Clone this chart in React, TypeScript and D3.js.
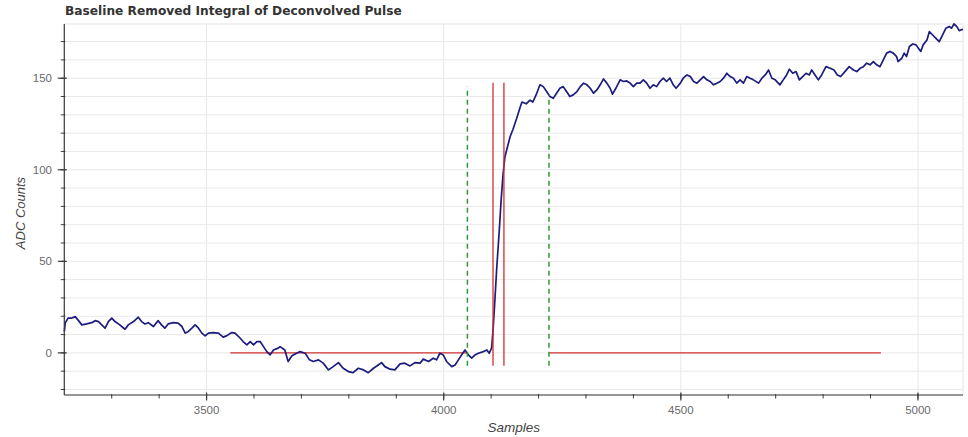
import React from "react";
import * as d3 from "d3";

// Integrated pulse trace: sample index and ADC counts
const samples = [
  3200, 3202, 3208, 3216, 3223, 3230, 3237, 3247, 3258, 3265, 3272, 3279, 3286, 3293, 3300, 3307,
  3317, 3328, 3335, 3346, 3356, 3363, 3370, 3377, 3388, 3398, 3405, 3412, 3419, 3430, 3440, 3448,
  3455, 3461, 3469, 3476, 3483, 3490, 3497, 3504, 3514, 3525, 3535, 3542, 3553, 3560, 3571, 3577,
  3585, 3592, 3599, 3606, 3613, 3620, 3627, 3634, 3641, 3651, 3655, 3665, 3672, 3680, 3690, 3697,
  3708, 3717, 3725, 3736, 3746, 3757, 3767, 3778, 3788, 3799, 3809, 3820, 3831, 3841, 3852, 3862,
  3869, 3876, 3887, 3897, 3908, 3918, 3929, 3940, 3950, 3957, 3968, 3978, 3985, 3992, 3999, 4006,
  4017, 4024, 4031, 4040, 4045, 4052, 4059, 4066, 4073, 4084, 4091, 4096, 4101, 4104, 4108, 4112,
  4117, 4121, 4125, 4129, 4134, 4140, 4146, 4155, 4161, 4165, 4174, 4182, 4188, 4195, 4203, 4210,
  4217, 4224, 4231, 4238, 4245, 4252, 4259, 4266, 4273, 4281, 4288, 4295, 4302, 4309, 4316, 4323,
  4330, 4337, 4344, 4351, 4356, 4363, 4372, 4379, 4386, 4393, 4400, 4407, 4414, 4421, 4428, 4435,
  4442, 4449, 4456, 4463, 4470, 4477, 4484, 4490, 4499, 4505, 4513, 4520, 4527, 4534, 4541, 4548,
  4555, 4562, 4569, 4576, 4583, 4590, 4597, 4604, 4611, 4618, 4625, 4632, 4639, 4646, 4653, 4664,
  4671, 4678, 4685, 4692, 4699, 4709, 4716, 4723, 4729, 4736, 4743, 4750, 4757, 4764, 4771, 4776,
  4783, 4790, 4797, 4806, 4815, 4823, 4830, 4837, 4846, 4855, 4864, 4871, 4878, 4885, 4892, 4899,
  4906, 4913, 4920, 4927, 4934, 4941, 4948, 4955, 4958, 4966, 4971, 4976, 4982, 4989, 4996, 5001,
  5006, 5011, 5019, 5024, 5031, 5038, 5045, 5052, 5059, 5066, 5071, 5076, 5082, 5087, 5095,
];

const adcCounts = [
  11.6, 16.4, 19, 19, 19.8, 17.6, 15.3, 15.8, 16.5, 17.6, 17.1, 15.3, 13.5, 17.1, 19, 17.1,
  15.3, 12.9, 15.3, 17.1, 19.5, 17.1, 15.8, 16.5, 14.4, 17.6, 15.3, 13.5, 15.8, 16.5, 16.2, 14.4,
  10.8, 11.6, 13.5, 15.3, 13.5, 10.8, 9.3, 10.8, 11.1, 10.8, 8.6, 9.3, 11.1, 10.8, 8.0, 6.2,
  4.4, 6.2, 4.4, 6.2, 6.2, 3.4, 0.7, -1.1, 1.6, 2.6, 3.4, 1.6, -4.7, -1.6, -0.2, 0.7,
  -0.2, -3.8, -4.7, -3.8, -5.6, -9.3, -7.5, -5.3, -8.4, -10.2, -10.8, -8.4, -9.3, -10.8, -8.4, -6.6,
  -5.3, -7.5, -8.9, -9.3, -6.0, -5.6, -7.1, -5.3, -5.6, -3.4, -4.7, -2.9, -3.8, -0.2, -1.1, -4.7,
  -7.5, -6.6, -3.8, -0.2, 1.6, -1.1, -2.9, -1.1, -0.2, 0.7, 1.6, -0.2, 2.6, 12, 29, 47,
  66, 83, 97, 107, 112, 118, 122, 129, 134, 137, 136, 138, 137, 141, 146.4, 145.4,
  142.7, 140, 139, 141.8, 144.5, 145.4, 142.7, 140, 140.9, 142.7, 145.4, 147.3, 146.4, 144.5, 141.8, 143.6,
  146.4, 149.6, 147.3, 144.5, 141.3, 144.5, 149.1, 148.2, 148.5, 147.3, 145.4, 147.3, 147.3, 149.1, 147.3, 144.5,
  146.4, 145.4, 148.2, 150, 148.2, 150, 146.4, 144.5, 147.3, 150, 151.8, 150.9, 148.2, 147.3, 149.1, 150.9,
  149.1, 148.2, 146.4, 147.3, 148.2, 150, 152.7, 150.9, 150, 147.3, 149.1, 147.3, 150.9, 150, 149.1, 147.3,
  150, 151.8, 154.5, 150, 149.1, 146.4, 149.1, 151.8, 154.9, 152.7, 153.6, 149.1, 150.9, 152.7, 151.8, 154.5,
  151.8, 149.1, 151.8, 156.3, 155.4, 154.5, 151.8, 150.9, 153.6, 156.3, 154.5, 153.6, 155.4, 156.3, 158.2, 157.3,
  159.1, 157.3, 156.3, 160, 163.7, 164.6, 163.7, 161.8, 159.1, 160.9, 163.7, 161.8, 167.3, 168.7, 168.2, 166.4,
  164.6, 168.2, 170.9, 175.4, 173.6, 171.8, 170, 173.6, 177.3, 178.2, 177.3, 179.7, 178.2, 176, 176.7,
];

// Baseline fit windows (horizontal, at zero)
const baselineStart = [3550, 4222];
const baselineEnd = [4050, 4922];

// Pulse onset markers (solid red) and integration window bounds (dashed green)
const onsetSamples = [4104, 4127];
const onsetTop = [147.5, 147.5];
const windowSamples = [4050, 4222];
const windowTop = [145.5, 141];
const markerBottom = -7;

const xTickValues = [3500, 4000, 4500, 5000];
const yTickValues = [0, 50, 100, 150];

const WIDTH = 968;
const HEIGHT = 437;
const LEFT = 64.3;
const RIGHT = 963;
const TOP = 24;
const BOTTOM = 395;

const FONT = "'Liberation Sans', Arial, Helvetica, sans-serif";
const TITLE_FONT = "'DejaVu Sans', 'Liberation Sans', Arial, sans-serif";

export default function App() {
  const x = d3.scaleLinear().domain([3200, 5095]).range([LEFT, RIGHT]);
  const y = d3.scaleLinear().domain([-23, 179.6]).range([BOTTOM, TOP]);

  const points: [number, number][] = samples.map((s, i) => [s, adcCounts[i]]);
  const line = d3
    .line<[number, number]>()
    .x((d) => x(d[0]))
    .y((d) => y(d[1]));

  const yMinor = d3.range(-20, 181, 10).filter((v) => y(v) >= TOP - 0.5);
  const xMinor = d3.range(3300, 5095, 100);

  const axisColor = "#3a3a3a";
  const gridColor = "#e9e9e9";
  const labelColor = "#6a6a6a";

  return (
    <svg
      width={WIDTH}
      height={HEIGHT}
      style={{ position: "absolute", left: 0, top: 0, background: "#fff" }}
      fontFamily={FONT}
    >
      <rect x={0} y={0} width={WIDTH} height={HEIGHT} fill="#fff" />

      {/* grid */}
      <g>
        {yMinor.map((v) => (
          <line key={"gy" + v} x1={LEFT} x2={RIGHT} y1={y(v)} y2={y(v)} stroke={gridColor} strokeWidth={1} />
        ))}
        {xTickValues.map((v) => (
          <line key={"gx" + v} x1={x(v)} x2={x(v)} y1={TOP} y2={BOTTOM} stroke={gridColor} strokeWidth={1} />
        ))}
        <rect x={LEFT} y={TOP} width={RIGHT - LEFT} height={BOTTOM - TOP} fill="none" stroke="#e4e4e4" strokeWidth={1} />
      </g>

      {/* baseline fit segments */}
      {baselineStart.map((s, i) => (
        <line
          key={"bl" + i}
          x1={x(s)}
          x2={x(baselineEnd[i])}
          y1={y(0)}
          y2={y(0)}
          stroke="#d22f2f"
          strokeWidth={1.3}
        />
      ))}

      {/* pulse trace */}
      <path d={line(points) ?? ""} fill="none" stroke="#1c1c7e" strokeWidth={1.7} strokeLinejoin="round" />

      {/* integration window */}
      {windowSamples.map((s, i) => (
        <line
          key={"w" + i}
          x1={x(s)}
          x2={x(s)}
          y1={y(markerBottom)}
          y2={y(windowTop[i])}
          stroke="#2f9a2f"
          strokeWidth={1.5}
          strokeDasharray="5,4"
        />
      ))}

      {/* onset markers */}
      {onsetSamples.map((s, i) => (
        <line
          key={"o" + i}
          x1={x(s)}
          x2={x(s)}
          y1={y(markerBottom)}
          y2={y(onsetTop[i])}
          stroke="#d22f2f"
          strokeWidth={1.3}
        />
      ))}

      {/* y axis */}
      <g>
        <line x1={LEFT} x2={LEFT} y1={TOP} y2={BOTTOM} stroke={axisColor} strokeWidth={1.2} />
        {yMinor.map((v) => (
          <line key={"ym" + v} x1={LEFT - 3.5} x2={LEFT + 1} y1={y(v)} y2={y(v)} stroke={axisColor} strokeWidth={1} />
        ))}
        {yTickValues.map((v) => (
          <g key={"yt" + v}>
            <line x1={LEFT - 6.5} x2={LEFT + 2.5} y1={y(v)} y2={y(v)} stroke={axisColor} strokeWidth={1.2} />
            <text x={52} y={y(v)} dy="0.36em" textAnchor="end" fontSize={11.5} fill={labelColor}>
              {v}
            </text>
          </g>
        ))}
        <text
          transform={`translate(25, 213) rotate(-90)`}
          textAnchor="middle"
          fontSize={13}
          fontStyle="italic"
          fill="#444"
        >
          ADC Counts
        </text>
      </g>

      {/* x axis */}
      <g>
        <line x1={LEFT} x2={RIGHT} y1={BOTTOM} y2={BOTTOM} stroke={axisColor} strokeWidth={1.2} />
        {xMinor.map((v) => (
          <line key={"xm" + v} x1={x(v)} x2={x(v)} y1={BOTTOM - 1} y2={BOTTOM + 3.5} stroke={axisColor} strokeWidth={1} />
        ))}
        {xTickValues.map((v) => (
          <g key={"xt" + v}>
            <line x1={x(v)} x2={x(v)} y1={BOTTOM - 2.5} y2={BOTTOM + 5.5} stroke={axisColor} strokeWidth={1.2} />
            <text x={x(v)} y={414} textAnchor="middle" fontSize={11.5} fill={labelColor}>
              {v}
            </text>
          </g>
        ))}
        <text x={(LEFT + RIGHT) / 2} y={432} textAnchor="middle" fontSize={13.5} fontStyle="italic" fill="#444">
          Samples
        </text>
      </g>

      {/* title */}
      <text x={65} y={15} fontSize={12.2} fontWeight="bold" fill="#333" fontFamily={TITLE_FONT}>
        Baseline Removed Integral of Deconvolved Pulse
      </text>
    </svg>
  );
}
